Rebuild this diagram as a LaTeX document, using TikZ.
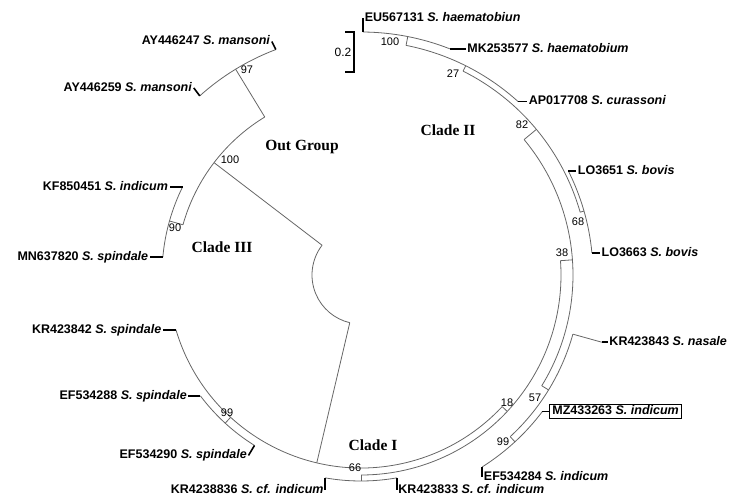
\documentclass[tikz,border=0pt]{standalone}
\usepackage{fontspec}
\setmainfont{Liberation Serif}
\setsansfont{Liberation Sans}
\begin{document}
\begin{tikzpicture}[x=1pt, y=1pt,
    rama/.style={draw=black!60, line width=0.8pt},
    hoja/.style={draw=black, line width=1.6pt},
    taxon/.style={font=\sffamily\bfseries\fontsize{12.5}{14}\selectfont, inner sep=1.5pt, text height=9pt, text depth=2.5pt},
    boot/.style={font=\sffamily\fontsize{11}{12}\selectfont, inner sep=0pt},
    clado/.style={font=\rmfamily\bfseries\fontsize{15.5}{17}\selectfont}]
    \useasboundingbox (0,0) rectangle (729,503);
    \begin{scope}[shift={(361,228)}]
        % Raiz
        \draw[rama] (142.6:49) arc[start angle=142.6, end angle=256.75, radius=49];
        % Out Group + Clade III
        \draw[rama] (142.6:49) -- (142.6:185);
        \draw[rama] (121.35:185) arc[start angle=121.35, end angle=164.25, radius=185];
        \draw[rama] (121.35:185) -- (121.35:241);
        \draw[rama] (110.7:241) arc[start angle=110.7, end angle=132, radius=241];
        \draw[rama] (164.25:185) -- (164.25:199);
        \draw[rama] (153.7:199) arc[start angle=153.7, end angle=174.8, radius=199];
        % Clade I + Clade II
        \draw[rama] (256.75:49) -- (256.75:193);
        \draw[rama] (196.5:193) arc[start angle=196.5, end angle=317, radius=193];
        \draw[rama] (227.5:193) -- (227.5:201);
        \draw[rama] (217:201) arc[start angle=217, end angle=238, radius=201];
        \draw[rama] (317:193) -- (317:200);
        \draw[rama] (270:200) arc[start angle=270, end angle=364.1, radius=200];
        \draw[rama] (270:200) -- (270:206);
        \draw[rama] (260:206) arc[start angle=260, end angle=280, radius=206];
        \draw[rama] (4.1:200) -- (4.1:212);
        \draw[rama] (-31.5:212) arc[start angle=-31.5, end angle=39.7, radius=212];
        \draw[rama] (-31.5:212) -- (-31.5:220);
        \draw[rama] (-47.3:220) arc[start angle=-47.3, end angle=-15.6, radius=220];
        \draw[rama] (-15.6:220) -- (-15.6:250);
        \draw[rama] (-47.3:220) -- (-47.3:227);
        \draw[rama] (-57.7:227) arc[start angle=-57.7, end angle=-37, radius=227];
        \draw[rama] (39.7:212) -- (39.7:228);
        \draw[rama] (16:228) arc[start angle=16, end angle=63.4, radius=228];
        \draw[rama] (16:228) -- (16:232);
        \draw[rama] (5.4:232) arc[start angle=5.4, end angle=26.7, radius=232];
        \draw[rama] (63.4:228) -- (63.4:234);
        \draw[rama] (47.8:234) arc[start angle=47.8, end angle=78.9, radius=234];
        \draw[rama] (78.9:234) -- (78.9:243);
        \draw[rama] (68.6:243) arc[start angle=68.6, end angle=89.5, radius=243];

        % Hojas y etiquetas
        \coordinate (tEU1) at (89.5:243);
        \draw[hoja] (tEU1) -- ++(0,14) coordinate (eEU1);
        \node[taxon, anchor=west] (lEU1) at (eEU1) {EU567131 \textit{S. haematobiun}};
        \coordinate (tMK) at (68.6:243);
        \draw[hoja] (tMK) -- ++(16,0) coordinate (eMK);
        \node[taxon, anchor=west] (lMK) at (eMK) {MK253577 \textit{S. haematobium}};
        \coordinate (tAP) at (47.8:234);
        \draw[hoja] (tAP) -- ++(9,0) coordinate (eAP);
        \node[taxon, anchor=west] (lAP) at (eAP) {AP017708 \textit{S. curassoni}};
        \coordinate (tLO1) at (26.7:232);
        \draw[hoja] (tLO1) -- ++(8,0) coordinate (eLO1);
        \node[taxon, anchor=west] (lLO1) at (eLO1) {LO3651 \textit{S. bovis}};
        \coordinate (tLO2) at (5.4:232);
        \draw[hoja] (tLO2) -- ++(8,0) coordinate (eLO2);
        \node[taxon, anchor=west] (lLO2) at (eLO2) {LO3663 \textit{S. bovis}};
        \coordinate (tKRn) at (-15.6:250);
        \draw[hoja] (tKRn) -- ++(6,0) coordinate (eKRn);
        \node[taxon, anchor=west] (lKRn) at (eKRn) {KR423843 \textit{S. nasale}};
        \coordinate (tMZ) at (-37:227);
        \draw[hoja] (tMZ) -- ++(7,0) coordinate (eMZ);
        \node[taxon, anchor=west, draw, line width=1.2pt, inner xsep=2.5pt] (lMZ) at (eMZ) {MZ433263 \textit{S. indicum}};
        \coordinate (tEF1) at (-57.7:227);
        \draw[hoja] (tEF1) -- ++(0,-10) coordinate (eEF1);
        \node[taxon, anchor=west] (lEF1) at (eEF1) {EF534284 \textit{S. indicum}};
        \coordinate (tKR1) at (-80:206);
        \draw[hoja] (tKR1) -- ++(0,-12) coordinate (eKR1);
        \node[taxon, anchor=west] (lKR1) at (eKR1) {KR423833 \textit{S. cf. indicum}};
        \coordinate (tKR2) at (260:206);
        \draw[hoja] (tKR2) -- ++(0,-12) coordinate (eKR2);
        \node[taxon, anchor=east] (lKR2) at (eKR2) {KR4238836 \textit{S. cf. indicum}};
        \coordinate (tEF2) at (238:201);
        \draw[hoja] (tEF2) -- ++(-6,-10) coordinate (eEF2);
        \node[taxon, anchor=east] (lEF2) at (eEF2) {EF534290 \textit{S. spindale}};
        \coordinate (tEF3) at (217:201);
        \draw[hoja] (tEF3) -- ++(-12,0) coordinate (eEF3);
        \node[taxon, anchor=east] (lEF3) at (eEF3) {EF534288 \textit{S. spindale}};
        \coordinate (tKR3) at (196.5:193);
        \draw[hoja] (tKR3) -- ++(-13,0) coordinate (eKR3);
        \node[taxon, anchor=east] (lKR3) at (eKR3) {KR423842 \textit{S. spindale}};
        \coordinate (tMN) at (174.8:199);
        \draw[hoja] (tMN) -- ++(-13,0) coordinate (eMN);
        \node[taxon, anchor=east] (lMN) at (eMN) {MN637820 \textit{S. spindale}};
        \coordinate (tKF) at (153.7:199);
        \draw[hoja] (tKF) -- ++(-13,0) coordinate (eKF);
        \node[taxon, anchor=east] (lKF) at (eKF) {KF850451 \textit{S. indicum}};
        \coordinate (tAY1) at (132:241);
        \draw[hoja] (tAY1) -- ++(-6,8) coordinate (eAY1);
        \node[taxon, anchor=east] (lAY1) at (eAY1) {AY446259 \textit{S. mansoni}};
        \coordinate (tAY2) at (110.7:241);
        \draw[hoja] (tAY2) -- ++(-4,8) coordinate (eAY2);
        \node[taxon, anchor=east] (lAY2) at (eAY2) {AY446247 \textit{S. mansoni}};

        % Valores bootstrap
        \node[boot] (b100a) at (29,233) {100};
        \node[boot] (b27) at (92,201) {27};
        \node[boot] (b82) at (161,150) {82};
        \node[boot] (b68) at (217,53) {68};
        \node[boot] (b38) at (201,22) {38};
        \node[boot] (b57) at (174,-123) {57};
        \node[boot] (b18) at (146,-128) {18};
        \node[boot] (b99a) at (142,-167) {99};
        \node[boot] (b66) at (-6,-193) {66};
        \node[boot] (b99b) at (-134,-138) {99};
        \node[boot] (b90) at (-186,47) {90};
        \node[boot] (b100b) at (-131,115) {100};
        \node[boot] (b97) at (-114,205) {97};

        % Clados
        \node[clado] (cI) at (12,-170) {Clade I};
        \node[clado] (cII) at (87,145) {Clade II};
        \node[clado] (cIII) at (-139,28) {Clade III};
        \node[clado] (cOut) at (-59,128) {Out Group};

        % Escala
        \draw[hoja, line width=1.8pt] (-16,243) -- (-7,243) -- (-7,203) -- (-16,203);
        \node[font=\sffamily\fontsize{12}{13}\selectfont] (esc) at (-18,223) {0.2};
    \end{scope}
\end{tikzpicture}
\end{document}
